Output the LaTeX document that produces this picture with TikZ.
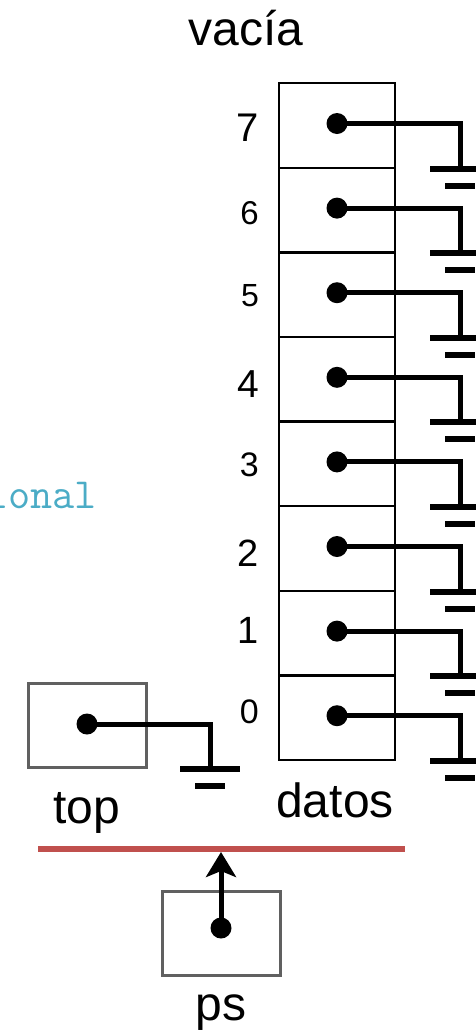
\documentclass[tikz,border=0pt]{standalone}
\usepackage{fontspec}
\setmainfont{Liberation Sans}
\usetikzlibrary{arrows.meta, positioning, calc}

\definecolor{boxgray}{HTML}{606060}
\definecolor{linered}{HTML}{C0504D}
\definecolor{codecyan}{HTML}{4BACC6}

\begin{document}
\begin{tikzpicture}[x=1pt, y=-1pt,
    cellbox/.style={draw=black, line width=2.5pt, minimum width=116pt, minimum height=84.6pt, inner sep=0pt},
    varbox/.style={draw=boxgray, line width=3pt, minimum width=118pt, minimum height=84pt, inner sep=0pt},
    pointdot/.style={circle, fill=black, minimum size=21pt, inner sep=0pt},
    wire/.style={line width=5pt},
    gndbar/.style={line width=6pt},
    namelabel/.style={font=\fontsize{48}{52}\selectfont, inner sep=0pt},
  ]
  % page frame, pixel units
  \clip (0,0) rectangle (476,1034);

  % title and cut-off code text
  \node[namelabel, anchor=base] (title) at (246,45) {vacía};
  \node[font=\ttfamily\fontsize{43}{46}\selectfont, text=codecyan, anchor=base west, inner sep=0pt] (codetxt) at (-14,508) {ional};

  % the array datos, cell 0 at the bottom
  \foreach \i in {0,...,7} {
    \node[cellbox] (cell\i) at (337,717.7-84.6*\i) {};
    \node[pointdot] (d\i) at ([yshift=2pt]cell\i.center) {};
    \coordinate (gnd\i) at ($(d\i.center)+(123,45)$);
    \draw[wire] (d\i.center) -| (gnd\i);
    \draw[gndbar] ($(gnd\i)+(-30,0)$) -- ($(gnd\i)+(30,0)$);
    \draw[gndbar] ($(gnd\i)+(-15,17)$) -- ($(gnd\i)+(15,17)$);
  }

  % indices
  \foreach \i/\fs/\ly in {7/40/128, 6/33/213, 5/32/296, 4/39/384, 3/34/465, 2/38/553, 1/38/630, 0/34/712}
    \node[anchor=east, inner sep=0pt, font=\fontsize{\fs}{\fs}\selectfont] (idx\i) at (259,\ly) {\i};

  \node[namelabel, anchor=base] (datoslabel) at (335,817) {datos};

  % top
  \node[varbox] (topbox) at (87.5,725) {};
  \node[pointdot] (topdot) at (87,724) {};
  \coordinate (gndtop) at ($(topdot.center)+(123,45)$);
  \draw[wire] (topdot.center) -| (gndtop);
  \draw[gndbar] ($(gndtop)+(-30,0)$) -- ($(gndtop)+(30,0)$);
  \draw[gndbar] ($(gndtop)+(-15,17)$) -- ($(gndtop)+(15,17)$);
  \node[namelabel, anchor=base] (toplabel) at (87,823) {top};

  % separator
  \coordinate (sepL) at (38,849);
  \coordinate (sepR) at (405,849);
  \draw[line width=6pt, linered] (sepL) -- (sepR);

  % ps
  \node[varbox] (psbox) at (221,933.5) {};
  \node[pointdot] (psdot) at (221,928) {};
  \draw[wire, -{Stealth[length=25pt, width=30pt, inset=6pt]}] (psdot.center) -- ($(psdot |- sepL)+(0,3)$);
  \node[namelabel, anchor=base] (pslabel) at (221,1020) {ps};
\end{tikzpicture}
\end{document}
